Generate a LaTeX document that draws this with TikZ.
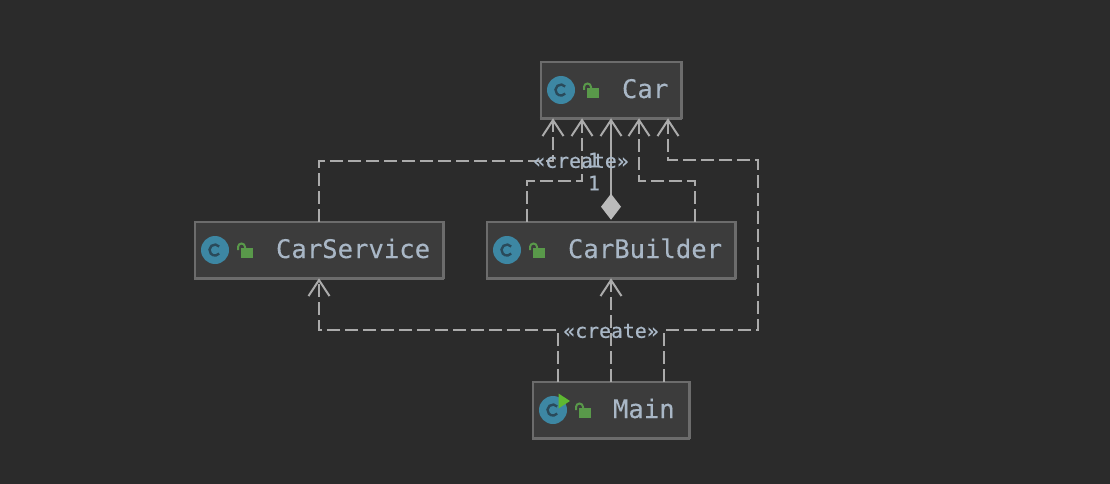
\documentclass[tikz,border=0pt]{standalone}
\usepackage{fontspec}
\usetikzlibrary{arrows.meta}
\newfontfamily\monoface[FakeBold=0.25]{DejaVu Sans Mono}
\newfontfamily\lblface[FakeBold=0.6]{DejaVu Sans Mono}
\definecolor{bgc}{HTML}{2B2B2B}
\definecolor{boxfill}{HTML}{3C3C3C}
\definecolor{boxline}{HTML}{6C6C6C}
\definecolor{txtc}{HTML}{A9B7C6}
\definecolor{linec}{HTML}{ABABAB}
\definecolor{diamc}{HTML}{BBBBBB}
\definecolor{iconblue}{HTML}{3D87A3}
\definecolor{icondark}{HTML}{2A4A5A}
\definecolor{lockgreen}{HTML}{59994A}
\definecolor{playgreen}{HTML}{5FB832}
\tikzset{
  x=1pt,y=-1pt,
  umlbox/.style={draw=boxline,fill=boxfill,line width=2.4pt,rectangle,inner sep=0pt,outer sep=0pt,minimum height=56.5pt},
  title/.style={anchor=base west,inner sep=0pt,outer sep=0pt,text=txtc,font=\monoface\fontsize{25.6}{28}\selectfont},
  lbl/.style={inner sep=0pt,outer sep=0pt,text=txtc,font=\lblface\fontsize{19.8}{22}\selectfont},
  dep/.style={draw=linec,line width=2pt,dash pattern=on 13pt off 5pt,-{Straight Barb[length=16pt,width=21pt,line width=2pt]}},
  assoc/.style={draw=linec,line width=2pt,{Diamond[length=26pt,width=20pt,fill=diamc,color=diamc,line width=0pt]}-{Straight Barb[length=16pt,width=21pt,line width=2pt]}},
  pics/classicon/.style={code={
    \fill[iconblue] (0,0) circle (14pt);
    \draw[icondark,line width=2.4pt] (4.2,-3.5) arc[start angle=40,end angle=320,radius=5.5pt];
    \fill[lockgreen] (26,-2) rectangle (38,8);
    \draw[lockgreen,line width=2pt] (23,0) -- (23,-3) arc[start angle=180,end angle=0,radius=3.5pt] -- (30,-1);
  }},
}
\begin{document}
\begin{tikzpicture}
\useasboundingbox (0,0) rectangle (1110,484);
\fill[bgc] (0,0) rectangle (1110,484);

\node[umlbox,minimum width=140.6pt] (car) at (611,90) {};
\node[umlbox,minimum width=248.6pt] (service) at (319,250) {};
\node[umlbox,minimum width=248.6pt] (builder) at (611,250) {};
\node[umlbox,minimum width=156.6pt] (main) at (611,410) {};

\foreach \n in {car,service,builder,main}
  \draw[boxline,line width=3pt] ([yshift=-0.2pt,xshift=-1pt]\n.south west) -- ([yshift=-0.2pt,xshift=1pt]\n.south east);

\path (561,90) pic {classicon};
\path (215,250) pic {classicon};
\path (507,250) pic {classicon};
\path (553,410) pic {classicon};
\fill[playgreen] (558.5,393.5) -- (570,401) -- (558.5,408.5) -- cycle;

\node[title] (carname) at (622,98) {Car};
\node[title] (servicename) at (276,258) {CarService};
\node[title] (buildername) at (568,258) {CarBuilder};
\node[title] (mainname) at (613,418) {Main};

\draw[dep] (service.north) -- ++(0,-61) -| ([xshift=-58pt]car.south);
\draw[dep] ([xshift=-84pt]builder.north) -- ++(0,-41) -| ([xshift=-29pt]car.south);
\draw[dep] ([xshift=84pt]builder.north) -- ++(0,-41) -| ([xshift=28pt]car.south);
\draw[assoc] ([yshift=2pt]builder.north) -- (car.south);
\draw[dep] ([xshift=-53pt]main.north) -- ++(0,-52) -| (service.south);
\draw[dep] (main.north) -- (builder.south);
\draw[dep] ([xshift=53pt]main.north) -- ++(0,-52) -- ++(94,0) -- ++(0,-170) -| ([xshift=57pt]car.south);

\node[lbl] (create1) at (581,161) {«create»};
\node[lbl] (one1) at (594,160) {1};
\node[lbl] (one2) at (594,183) {1};
\node[lbl] (create2) at (611,331) {«create»};
\end{tikzpicture}
\end{document}
